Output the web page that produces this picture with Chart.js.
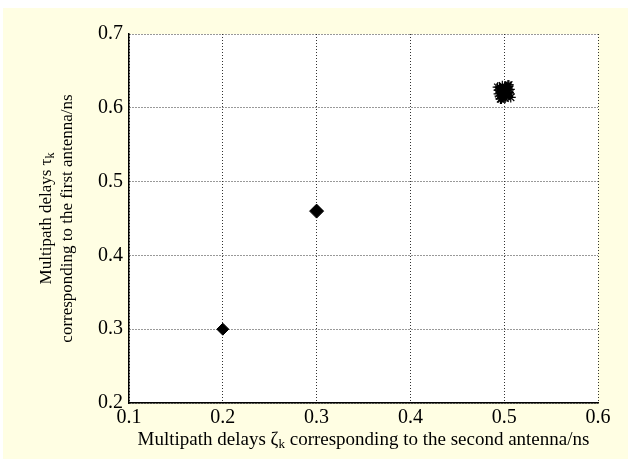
<!DOCTYPE html>
<html>
<head>
<meta charset="utf-8">
<script src="https://cdn.jsdelivr.net/npm/chart.js@4.4.1/dist/chart.umd.min.js"></script>
<style>
  html, body { margin: 0; padding: 0; background: #fff; }
  canvas { display: block; }
</style>
</head>
<body>
<canvas id="chart" width="631" height="466"></canvas>
<script>
// tick labels
const xTicks = [0.1, 0.2, 0.3, 0.4, 0.5, 0.6];
const yTicks = [0.2, 0.3, 0.4, 0.5, 0.6, 0.7];

// estimates near the first two paths (look like single markers)
const pathX = [0.2, 0.3];
const pathY = [0.3, 0.46];

// estimates scattered around the third path
const clusterX = [0.495, 0.498, 0.501, 0.504, 0.506, 0.497, 0.500, 0.503, 0.494, 0.499,
                  0.502, 0.505, 0.496, 0.501, 0.498, 0.503, 0.500, 0.497, 0.504, 0.499,
                  0.495, 0.502, 0.506, 0.494, 0.493, 0.507, 0.505, 0.496];
const clusterY = [0.628, 0.630, 0.627, 0.629, 0.625, 0.622, 0.623, 0.620, 0.619, 0.617,
                  0.618, 0.621, 0.626, 0.613, 0.614, 0.615, 0.624, 0.612, 0.631, 0.620,
                  0.616, 0.626, 0.619, 0.624, 0.628, 0.614, 0.631, 0.612];

const FONT = '"Liberation Serif", "Times New Roman", serif';

function toPoints(xs, ys) {
  return xs.map((x, i) => ({ x: x, y: ys[i] }));
}

// draw text with a subscript part, e.g. ["Multipath delays ζ", "k", " ..."]
function drawRich(ctx, parts, cx, cy, size) {
  const big = size + "px " + FONT;
  const small = Math.round(size * 0.7) + "px " + FONT;
  let total = 0;
  parts.forEach((p, i) => {
    ctx.font = i % 2 ? small : big;
    total += ctx.measureText(p).width;
  });
  let x = cx - total / 2;
  parts.forEach((p, i) => {
    ctx.font = i % 2 ? small : big;
    ctx.fillText(p, x, i % 2 ? cy + size * 0.25 : cy);
    x += ctx.measureText(p).width;
  });
}

const framePlugin = {
  id: "frame",
  beforeDraw(chart) {
    const ctx = chart.ctx;
    const a = chart.chartArea;
    ctx.save();
    ctx.fillStyle = "#fffee3";
    ctx.fillRect(3, 8, 625, 451);
    ctx.fillStyle = "#ffffff";
    ctx.fillRect(a.left, a.top, a.right - a.left, a.bottom - a.top);
    ctx.restore();
  },
  afterDraw(chart) {
    const ctx = chart.ctx;
    const a = chart.chartArea;
    ctx.save();
    ctx.fillStyle = "#000";
    ctx.textBaseline = "middle";
    drawRich(ctx, ["Multipath delays ζ", "k", " corresponding to the second antenna/ns"],
      (a.left + a.right) / 2, 440, 19);
    ctx.translate(0, (a.top + a.bottom) / 2);
    ctx.rotate(-Math.PI / 2);
    drawRich(ctx, ["Multipath delays τ", "k", ""], 0, 47, 17);
    drawRich(ctx, ["corresponding to the first antenna/ns"], 0, 68, 17);
    ctx.restore();
  }
};

new Chart(document.getElementById("chart"), {
  type: "scatter",
  data: {
    datasets: [
      {
        data: toPoints(pathX, pathY),
        pointStyle: "rectRot",
        pointRadius: [6, 7],
        backgroundColor: "#000",
        borderColor: "#000",
        borderWidth: 1
      },
      {
        data: toPoints(clusterX, clusterY),
        pointStyle: "star",
        pointRadius: 5,
        backgroundColor: "#000",
        borderColor: "#000",
        borderWidth: 1.2
      }
    ]
  },
  options: {
    responsive: false,
    animation: false,
    layout: { padding: { left: 0, top: 34, right: 33, bottom: 0 } },
    plugins: { legend: { display: false }, tooltip: { enabled: false } },
    scales: {
      x: {
        type: "linear",
        min: 0.1,
        max: 0.6,
        afterBuildTicks: s => { s.ticks = xTicks.map(v => ({ value: v })); },
        afterFit: s => { s.height = 63; },
        grid: { color: "#333", lineWidth: 1, drawTicks: false },
        border: { display: true, color: "#000", width: 1.5, dash: [1, 2] },
        ticks: {
          padding: 3,
          color: "#000",
          font: { family: FONT, size: 20 },
          callback: v => v.toFixed(1)
        }
      },
      y: {
        type: "linear",
        min: 0.2,
        max: 0.7,
        afterBuildTicks: s => { s.ticks = yTicks.map(v => ({ value: v })); },
        afterFit: s => { s.width = 129; },
        grid: { color: "#333", lineWidth: 1, drawTicks: false },
        border: { display: true, color: "#000", width: 1.5, dash: [1, 2] },
        ticks: {
          padding: 6,
          color: "#000",
          font: { family: FONT, size: 20 },
          callback: v => v.toFixed(1)
        }
      }
    }
  },
  plugins: [framePlugin]
});
</script>
</body>
</html>
